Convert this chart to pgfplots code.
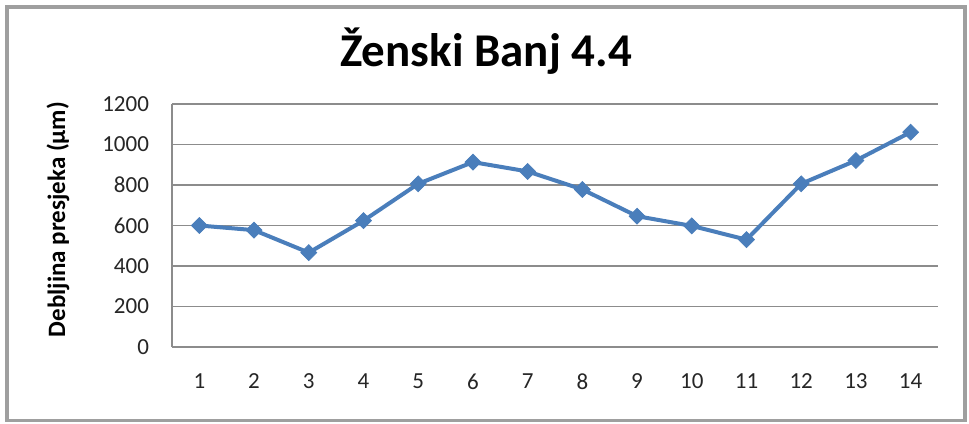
\documentclass[border=0pt]{standalone}
\usepackage{fontspec}
\setmainfont{Carlito}
\usepackage{pgfplots}
\pgfplotsset{compat=1.18}
\definecolor{serblue}{HTML}{4A7EBB}
\definecolor{gridgray}{HTML}{8C8C8C}
\begin{document}
\begin{tikzpicture}
\path[use as bounding box] (0,0) rectangle (484.5pt,211.5pt);
\fill[white] (0,0) rectangle (484.5pt,211.5pt);
\draw[line width=1.6pt, color=gray!75] (3.5pt,1.2pt) rectangle (482.5pt,208pt);
\begin{axis}[
  at={(86pt,38pt)}, anchor=south west,
  scale only axis, width=383pt, height=121.5pt,
  xmin=0.5, xmax=14.5, ymin=0, ymax=1200,
  xtick={1,...,14}, ytick={0,200,...,1200},
  axis x line*=bottom, axis y line*=left,
  axis line style={color=gridgray, line width=0.6pt, -},
  ymajorgrids, grid style={color=gridgray, line width=0.6pt},
  major tick length=0pt,
  tick label style={font=\fontsize{11.5}{13}\selectfont, color=black!85},
  /pgf/number format/assume math mode=true,
  /pgf/number format/1000 sep={},
  yticklabel style={xshift=-8pt},
  xticklabel style={yshift=-10pt},
  clip=false,
]
\addplot[color=serblue, line width=2pt, mark=square*, mark size=2.8pt,
  mark options={rotate=45, fill=serblue, draw=serblue, line width=0.4pt}]
coordinates {
(1,600) (2,577) (3,466) (4,624) (5,806) (6,913) (7,867)
(8,778) (9,646) (10,598) (11,530) (12,806) (13,921) (14,1061)
};
\end{axis}
\node[font=\fontsize{23.5}{27}\selectfont\bfseries] at (243pt,186pt) {Ženski Banj 4.4};
\node[font=\fontsize{12.5}{15}\selectfont\bfseries, rotate=90] at (29pt,101.75pt) {Debljina presjeka (µm)};
\end{tikzpicture}
\end{document}
